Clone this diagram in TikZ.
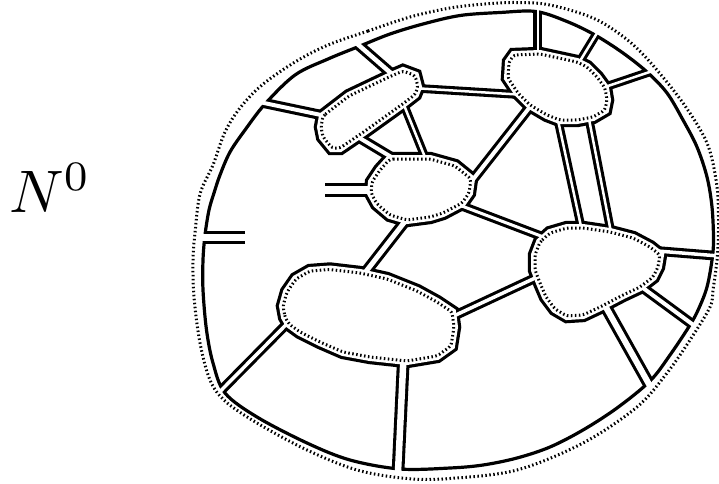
\documentclass[tikz,border=0pt]{standalone}
\begin{document}
\tikzset{
  dotline/.style={line width=3pt, dash pattern=on 1.5pt off 2.5pt},
  blobblack/.style={fill=black, draw=black, line width=14.4pt, line join=miter},
  blobwhite/.style={fill=white, draw=white, line width=8pt, line join=miter},
  blobdots/.style={dotline, rounded corners=3pt},
  solidline/.style={line width=3.2pt}
}
\def\Spath{plot[smooth cycle, tension=0.55] coordinates {(460,15.5) (500,12.5) (536,11.5) (567,21.5) (595,35) (623,53) (647,72) (667,93) (683,120) (697,147) (707,177) (712,207) (713.5,240) (712,260) (707,287) (699,308) (690,325) (670,355) (650,381) (617,408) (583,430) (550,447) (517,458) (483,465) (450,468) (400,469) (350,460) (307,443) (257,417) (225,393) (213,363) (206.5,330) (203,290) (203,260) (205,235) (209,210) (214,193) (220,175) (230,152) (245,130) (265,104) (295,75) (328,59) (360,46) (390,34) (423,24)}}
\def\Dpath{plot[smooth cycle, tension=0.55] coordinates {(328,45) (368,31) (410,17) (450,8) (485,4) (517,2.5) (550,5) (593,18) (625,38) (650,62) (683,103) (707,143) (716.5,183) (718.5,217) (717.5,255) (713,290) (710,307) (690,340) (667,373) (637,407) (583,443) (517,470) (450,478.5) (407,478.5) (357,470) (307,450) (257,423) (225,401) (210,380) (200,343) (194,297) (193,260) (195,233) (200,194) (213,165) (225,132) (240,108) (262,85) (295,62)}}
\def\Bone{(323,116) -- (349,96) -- (389,77) -- (403,71) -- (415,75.5) -- (418,87) -- (415,94.5) -- (404,103) -- (365,131) -- (340,148) -- (332,148) -- (323,137) -- (321,127) -- cycle}
\def\Btwo{(514,55) -- (540,54) -- (577,62) -- (587,67) -- (597,77) -- (605,88) -- (607,100) -- (605,110) -- (593,117) -- (577,120) -- (560,120) -- (547,115) -- (530,105) -- (518,93) -- (508,78) -- (509,62) -- cycle}
\def\Bthree{(390,159) -- (430,159) -- (455,166) -- (471,179) -- (469,193) -- (462,203) -- (443,213) -- (430,217) -- (407,220) -- (390,215) -- (377,204) -- (371,193) -- (372,182) -- (380,170) -- cycle}
\def\Bfour{(540,242) -- (550,233) -- (567,228) -- (583,228) -- (610,232) -- (633,238) -- (650,247) -- (660,255) -- (658,267) -- (653,277) -- (640,287) -- (623,295) -- (600,307) -- (583,315) -- (567,316) -- (555,309) -- (546,297) -- (540,283) -- (535,270) -- (535,255) -- cycle}
\def\Bfive{(285,317) -- (283,306) -- (287,292) -- (296,279) -- (310,271) -- (330,269.5) -- (360,273) -- (387,279) -- (417,291) -- (437,302) -- (452,312) -- (454,327) -- (451,346) -- (437,356) -- (407,361) -- (370,357) -- (343,352) -- (320,342) -- (300,332) -- (289,324) -- cycle}
\begin{tikzpicture}[x=1pt,y=-1pt]
\useasboundingbox (0,0) rectangle (719,483);
\node[anchor=base west, inner sep=0pt, scale=6] (label) at (8,212) {$N^0$};
% channel end points
\coordinate (e1-a) at (347,35);      \coordinate (e1-b) at (400,81);
\coordinate (e2-a) at (245,99);      \coordinate (e2-b) at (333,117.5);
\coordinate (e3-a) at (409,87.8);    \coordinate (e3-b) at (526,95);
\coordinate (e4-a) at (349.6,132);   \coordinate (e4-b) at (408,167);
\coordinate (e5-a) at (400,95.2);    \coordinate (e5-b) at (428.7,166.4);
\coordinate (e6-a) at (325,190);     \coordinate (e6-b) at (385,190);
\coordinate (e7-a) at (412.8,211.4); \coordinate (e7-b) at (357.7,282.1);
\coordinate (e8-a) at (463.4,191.7); \coordinate (e8-b) at (537.4,97.4);
\coordinate (e9-a) at (450,201.5);   \coordinate (e9-b) at (553,240.6);
\coordinate (e10-a) at (445.3,319.9); \coordinate (e10-b) at (543.9,273.9);
\coordinate (e11-a) at (556.5,113.3); \coordinate (e11-b) at (583,235.7);
\coordinate (e12-a) at (587.1,109.3); \coordinate (e12-b) at (613.2,243.7);
\coordinate (e13-a) at (537.5,-2);    \coordinate (e13-b) at (537.5,63);
\coordinate (e14-a) at (573.8,71.2);  \coordinate (e14-b) at (603.3,22.7);
\coordinate (e15-a) at (593.6,90.8);  \coordinate (e15-b) at (659.4,68.7);
\coordinate (e16-a) at (640.1,249.6); \coordinate (e16-b) at (723,256.3);
\coordinate (e17-a) at (633.1,280.7); \coordinate (e17-b) at (701.3,330.8);
\coordinate (e18-a) at (600.2,297);   \coordinate (e18-b) at (654.3,393.7);
\coordinate (e19-a) at (403.7,353);   \coordinate (e19-b) at (397.5,482);
\coordinate (e20-a) at (295.6,315);   \coordinate (e20-b) at (215.5,396.1);
\coordinate (e21-a) at (185,237.5);   \coordinate (e21-b) at (245,237.5);
\def\chanlist{e1/7.5, e2/7, e3/5.5, e4/7, e5/5.5, e6/10.5, e7/8, e8/7, e9/6, e10/6.5, e11/5.5, e12/5.5, e13/5, e14/5.5, e15/5.5, e16/6.5, e17/7, e18/9, e19/9.5, e20/6.5, e21/10.5}
% black layer
\begin{scope}
  \clip \Spath;
  \foreach \n/\d in \chanlist { \draw[line width=\d+3.2] (\n-a) -- (\n-b); }
  \path[blobblack] \Bone;
  \path[blobblack] \Btwo;
  \path[blobblack] \Bthree;
  \path[blobblack] \Bfour;
  \path[blobblack] \Bfive;
\end{scope}
\draw[solidline] \Spath;
% white layer
\begin{scope}
  \clip \Dpath;
  \foreach \n/\d in \chanlist { \draw[white, line width=\d-3] (\n-a) -- (\n-b); }
  \path[blobwhite] \Bone;
  \path[blobwhite] \Btwo;
  \path[blobwhite] \Bthree;
  \path[blobwhite] \Bfour;
  \path[blobwhite] \Bfive;
\end{scope}
% dotted outlines
\draw[dotline] \Dpath;
\draw[blobdots] \Bone;
\draw[blobdots] \Btwo;
\draw[blobdots] \Bthree;
\draw[blobdots] \Bfour;
\draw[blobdots] \Bfive;
\end{tikzpicture}
\end{document}
